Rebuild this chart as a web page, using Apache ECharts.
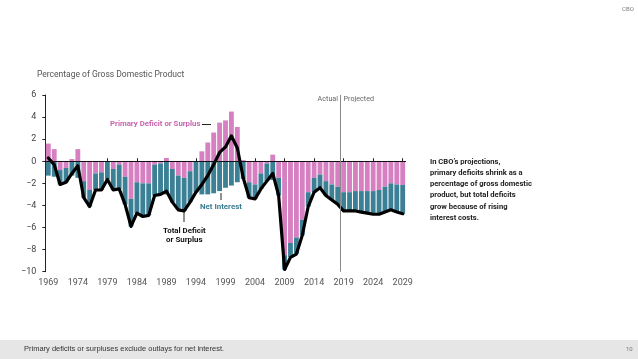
<!DOCTYPE html>
<html><head><meta charset="utf-8">
<script src="https://cdn.jsdelivr.net/npm/echarts@6/dist/echarts.min.js"></script>
<style>html,body{margin:0;padding:0;background:#fff}#c{width:638px;height:359px}</style>
</head><body><div id="c"></div>
<script>
const years = ['1969','1970','1971','1972','1973','1974','1975','1976','1977','1978',
'1979','1980','1981','1982','1983','1984','1985','1986','1987','1988',
'1989','1990','1991','1992','1993','1994','1995','1996','1997','1998',
'1999','2000','2001','2002','2003','2004','2005','2006','2007','2008',
'2009','2010','2011','2012','2013','2014','2015','2016','2017','2018',
'2019','2020','2021','2022','2023','2024','2025','2026','2027','2028','2029'];

// Primary deficit (-) or surplus (+), % of GDP
const primary = [1.6,1.1,-0.8,-0.6,0.2,1.1,-1.8,-2.6,-1.1,-1.0,
-0.05,-0.7,-0.3,-1.4,-3.4,-1.9,-2.0,-2.0,-0.3,-0.2,
0.3,-0.7,-1.3,-1.5,-0.9,0.0,0.9,1.7,2.6,3.5,
3.7,4.5,3.1,0.1,-1.9,-2.1,-1.1,-0.2,0.6,-1.5,
-8.5,-7.4,-6.9,-5.3,-2.8,-1.5,-1.2,-1.8,-2.1,-2.3,
-2.8,-2.8,-2.7,-2.7,-2.7,-2.7,-2.6,-2.3,-2.0,-2.1,-2.15];

// Net interest outlays, % of GDP
const netInterest = [1.3,1.4,1.3,1.3,1.3,1.5,1.5,1.5,1.5,1.6,
1.6,1.9,2.2,2.5,2.5,2.8,3.0,2.9,2.8,2.8,
3.0,3.0,3.1,3.0,2.8,2.8,3.0,3.0,2.9,2.7,
2.4,2.2,1.9,1.6,1.4,1.3,1.4,1.6,1.7,1.6,
1.3,1.3,1.5,1.4,1.3,1.3,1.2,1.3,1.4,1.6,
1.7,1.7,1.8,1.9,2.0,2.1,2.2,2.3,2.4,2.5,2.6];

// Total deficit (-) or surplus (+), % of GDP
const totalDeficit = [0.3,-0.3,-2.1,-1.9,-1.1,-0.4,-3.3,-4.1,-2.6,-2.6,
-1.65,-2.6,-2.5,-3.9,-5.9,-4.7,-5.0,-4.9,-3.1,-3.0,
-2.7,-3.7,-4.4,-4.5,-3.7,-2.8,-2.1,-1.3,-0.3,0.8,
1.3,2.3,1.2,-1.5,-3.3,-3.4,-2.5,-1.8,-1.1,-3.1,
-9.8,-8.7,-8.4,-6.7,-4.1,-2.8,-2.4,-3.1,-3.5,-3.9,
-4.5,-4.5,-4.5,-4.6,-4.7,-4.8,-4.8,-4.6,-4.4,-4.6,-4.75];

const yTicks = [6,4,2,0,-2,-4,-6,-8,-10];
const splitYear = 2018.5;

const PINK = '#d67fc1', TEAL = '#3c8096';
const chart = echarts.init(document.getElementById('c'), null, {renderer:'canvas'});
const every5 = i => i % 5 === 0;
const txt = (x,y,t,style) => ({type:'text', left:x, top:y, style:Object.assign({text:t, fontFamily:'Roboto', fill:'#333', fontSize:9}, style)});

chart.setOption({
  animation:false,
  grid:{left:45.35, width:360.3, top:95, height:176.7},
  xAxis:[{
    type:'category', data:years, boundaryGap:true,
    axisLine:{lineStyle:{color:'#222', width:1}},
    axisTick:{show:true, inside:true, length:3, alignWithLabel:true, interval:every5, lineStyle:{color:'#222'}},
    axisLabel:{interval:every5, color:'#555', fontSize:9, fontFamily:'Roboto', margin:7}
  },{
    type:'value', min:1968.5, max:2029.5, show:false
  }],
  yAxis:{
    type:'value', min:-10, max:6, interval:2,
    axisLine:{show:true, lineStyle:{color:'#222'}},
    axisTick:{show:true, length:3, lineStyle:{color:'#222'}},
    splitLine:{show:false},
    axisLabel:{color:'#444', fontSize:9, fontFamily:'Roboto', margin:9,
      formatter:v => yTicks.indexOf(v) >= 0 ? String(v).replace('-', '\u2212') : ''}
  },
  series:[
    {name:'Primary Deficit or Surplus', type:'bar', stack:'s', data:primary,
     itemStyle:{color:PINK}, barCategoryGap:'18%', z:2},
    {name:'Net Interest', type:'bar', stack:'s', data:netInterest.map(v => -v),
     itemStyle:{color:TEAL}, z:2},
    {name:'Total Deficit or Surplus', type:'line', data:totalDeficit,
     symbol:'none', lineStyle:{color:'#000', width:3.2, join:'round', cap:'round'}, z:4,
     markLine:{silent:true, symbol:'none', label:{show:false},
       lineStyle:{color:'#111', width:1, type:'solid'}, data:[{yAxis:0}]}},
    {type:'scatter', xAxisIndex:1, data:[], z:3,
     markLine:{silent:true, symbol:'none', label:{show:false},
       lineStyle:{color:'#888', width:1, type:'solid'}, data:[{xAxis:splitYear}]}}
  ],
  graphic:[
    txt(622, 6, 'CBO', {fill:'#777', fontSize:6}),
    txt(37, 70, 'Percentage of Gross Domestic Product', {fill:'#555', fontSize:8.5}),
    {type:'text', x:338, y:99, style:{text:'Actual', align:'right', verticalAlign:'middle', fontFamily:'Roboto', fontSize:7.2, fill:'#666'}},
    {type:'text', x:343.5, y:99, style:{text:'Projected', align:'left', verticalAlign:'middle', fontFamily:'Roboto', fontSize:7.2, fill:'#666'}},
    txt(110, 120, 'Primary Deficit or Surplus', {fill:'#c765ae', fontSize:7.8, fontWeight:'bold'}),
    {type:'line', shape:{x1:202, y1:124.5, x2:211, y2:124.5}, style:{stroke:'#222', lineWidth:1}},
    txt(200, 203, 'Net Interest', {fill:'#3a7d93', fontSize:7.9, fontWeight:'bold'}),
    {type:'line', shape:{x1:221, y1:193, x2:221, y2:200}, style:{stroke:'#222', lineWidth:1}},
    {type:'line', shape:{x1:184, y1:212, x2:184, y2:222}, style:{stroke:'#222', lineWidth:1}},
    {type:'text', left:163, top:226, style:{text:'Total Deficit\nor Surplus', align:'center', x:0, fontFamily:'Roboto', fontWeight:'bold', fontSize:7.9, lineHeight:9.5, fill:'#111', textAlign:'center'}},
    {type:'text', left:430, top:156, style:{text:'In CBO\u2019s projections,\nprimary deficits shrink as a\npercentage of gross domestic\nproduct, but total deficits\ngrow because of rising\ninterest costs.', fontFamily:'Roboto', fontWeight:'bold', fontSize:7.6, lineHeight:11.3, fill:'#222'}},
    {type:'rect', left:0, top:340, shape:{width:638, height:19}, style:{fill:'#e6e6e6'}},
    txt(24, 345, 'Primary deficits or surpluses exclude outlays for net interest.', {fill:'#333', fontSize:7.5, fontFamily:'Liberation Sans'}),
    txt(626, 346, '10', {fill:'#777', fontSize:6})
  ]
});
</script></body></html>
